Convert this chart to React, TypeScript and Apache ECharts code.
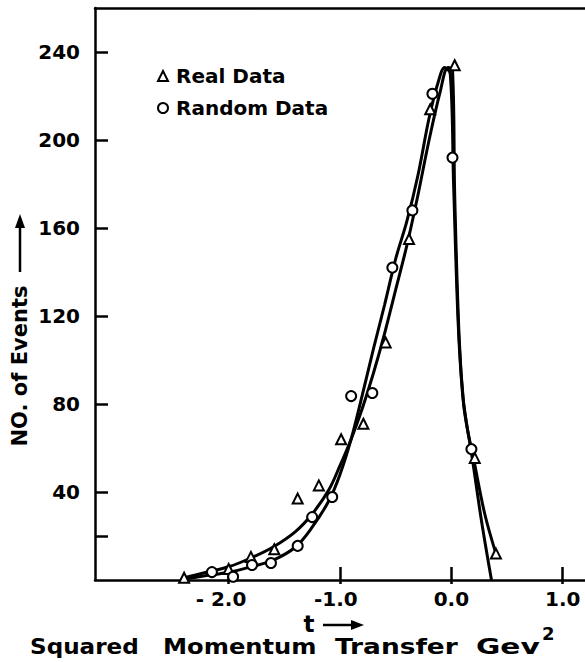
import React, { useEffect, useRef } from "react";
import * as echarts from "echarts";

// Observed data points
const realT = [-2.4, -2.0, -1.8, -1.59, -1.38, -1.19, -0.99, -0.79, -0.59, -0.38, -0.19, 0.03, 0.21, 0.4];
const realN = [1, 5, 10.5, 14, 37, 43, 64, 71, 108, 155, 214, 234, 55.5, 12];
const randT = [-2.15, -1.96, -1.79, -1.62, -1.38, -1.25, -1.07, -0.9, -0.71, -0.53, -0.35, -0.17, 0.01, 0.18];
const randN = [3.6, 1.5, 6.8, 7.7, 15.5, 28.6, 37.7, 83.6, 85, 142, 168, 221, 192, 59.5];

// Hand-drawn fitted curves
const realFitT = [-2.4, -2.2, -2.0, -1.8, -1.6, -1.4, -1.25, -1.1, -1.0, -0.9, -0.8, -0.7, -0.6, -0.5, -0.4, -0.3, -0.2, -0.1, -0.03, 0.01, 0.03, 0.07, 0.11, 0.15, 0.2, 0.3, 0.4];
const realFitN = [1, 3.5, 6, 10, 15, 22, 30, 41, 52, 64, 78, 94, 112, 132, 152, 175, 200, 222, 233, 232, 175, 110, 80, 67, 55, 30, 12];
const randFitT = [-2.4, -2.2, -2.0, -1.8, -1.6, -1.4, -1.25, -1.1, -1.0, -0.9, -0.8, -0.7, -0.6, -0.5, -0.4, -0.3, -0.2, -0.12, -0.06, -0.01, 0.02, 0.06, 0.1, 0.14, 0.18, 0.27, 0.36];
const randFitN = [0.5, 2, 3.5, 6, 9, 15, 24, 36, 48, 64, 84, 105, 125, 146, 163, 184, 210, 226, 233, 230, 180, 118, 85, 70, 58, 27, 0];

// Axis ticks
const xTickValues = [-2, -1, 0, 1];
const xTickLabels = ["{n|- 2.0}{h|- }", "{n|-1.0}{h|-}", "0.0", "1.0"];
const yLabelValues = [40, 80, 120, 160, 200, 240];
const yTickValues = [20, 40, 80, 120, 160, 200, 240];

const zip = (a: number[], b: number[]) => a.map((v, i) => [v, b[i]]);

const FONT = "DejaVu Sans";

export default function App() {
  const ref = useRef<HTMLDivElement>(null);
  useEffect(() => {
    if (!ref.current) return;
    const chart = echarts.init(ref.current, null, { renderer: "svg" });
    const axisLine = { show: true, onZero: false, lineStyle: { color: "#000", width: 2.5 } };
    const labelStyle = { color: "#000", fontFamily: FONT, fontWeight: "bold" as const, fontSize: 20 };
    const markerStyle = { color: "#fff", borderColor: "#000", borderWidth: 2, opacity: 1 };
    const word = (text: string, x: number, sx: number) => ({
      type: "text",
      x,
      y: 646,
      scaleX: sx,
      style: { text, fill: "#000", font: `bold 22px "${FONT}"`, align: "left", verticalAlign: "middle" },
    });
    chart.setOption({
      animation: false,
      backgroundColor: "#fff",
      grid: { left: 95, top: 8, width: 493, height: 572 },
      legend: {
        orient: "vertical",
        left: 152,
        top: 61,
        itemWidth: 10,
        itemHeight: 10,
        itemGap: 12,
        data: ["Real Data", "Random Data"],
        textStyle: { ...labelStyle, lineHeight: 20, padding: [0, 0, 0, 3] },
      },
      xAxis: [
        {
          type: "value",
          min: -3.2,
          max: 1.2,
          position: "bottom",
          axisLine,
          splitLine: { show: false },
          axisTick: {
            show: true,
            inside: true,
            length: 13,
            lineStyle: { color: "#000", width: 2.5 },
            customValues: xTickValues,
          },
          axisLabel: {
            ...labelStyle,
            margin: 9,
            customValues: xTickValues,
            formatter: (v: number) => xTickLabels[xTickValues.indexOf(Math.round(v))] ?? "",
            rich: {
              n: { ...labelStyle },
              h: { ...labelStyle, color: "transparent" },
            },
          },
        },
        {
          type: "value",
          min: -3.2,
          max: 1.2,
          position: "bottom",
          axisLine: { show: false, onZero: false },
          splitLine: { show: false },
          axisTick: {
            show: true,
            inside: false,
            length: 4,
            lineStyle: { color: "#000", width: 2.5 },
            customValues: xTickValues,
          },
          axisLabel: { show: false },
        },
        {
          type: "value",
          min: -3.2,
          max: 1.2,
          position: "top",
          axisLine,
          splitLine: { show: false },
          axisTick: { show: false },
          axisLabel: { show: false },
        },
      ],
      yAxis: {
        type: "value",
        min: 0,
        max: 260,
        position: "left",
        axisLine,
        splitLine: { show: false },
        axisTick: {
          show: true,
          inside: true,
          length: 13,
          lineStyle: { color: "#000", width: 2.5 },
          customValues: yTickValues,
        },
        axisLabel: { ...labelStyle, margin: 15, customValues: yLabelValues },
      },
      series: [
        {
          name: "realFit",
          type: "line",
          data: zip(realFitT, realFitN),
          smooth: 0.35,
          showSymbol: false,
          lineStyle: { color: "#000", width: 3 },
          z: 2,
          silent: true,
        },
        {
          name: "randFit",
          type: "line",
          data: zip(randFitT, randFitN),
          smooth: 0.35,
          showSymbol: false,
          lineStyle: { color: "#000", width: 3 },
          z: 2,
          silent: true,
        },
        {
          name: "Real Data",
          type: "scatter",
          data: zip(realT, realN),
          symbol: "triangle",
          symbolSize: 10,
          itemStyle: markerStyle,
          z: 5,
        },
        {
          name: "Random Data",
          type: "scatter",
          data: zip(randT, randN),
          symbol: "circle",
          symbolSize: 10,
          itemStyle: markerStyle,
          z: 6,
        },
      ],
      graphic: [
        {
          type: "text",
          x: 20,
          y: 366,
          rotation: Math.PI / 2,
          style: {
            text: "NO. of Events",
            fill: "#000",
            font: `bold 21px "${FONT}"`,
            align: "center",
            verticalAlign: "middle",
          },
        },
        { type: "line", shape: { x1: 20, y1: 272, x2: 20, y2: 224 }, style: { stroke: "#000", lineWidth: 2.5 } },
        { type: "polygon", shape: { points: [[15, 228], [20, 214], [25, 228]] }, style: { fill: "#000" } },
        {
          type: "text",
          x: 309,
          y: 624,
          style: { text: "t", fill: "#000", font: `bold 23px "${FONT}"`, align: "center", verticalAlign: "middle" },
        },
        { type: "line", shape: { x1: 323, y1: 625, x2: 355, y2: 625 }, style: { stroke: "#000", lineWidth: 2.5 } },
        { type: "polygon", shape: { points: [[351, 620], [364, 625], [351, 630]] }, style: { fill: "#000" } },
        word("Squared", 30, 1.05),
        word("Momentum", 163, 1.1),
        word("Transfer", 335, 1.2),
        word("Gev", 476, 1.35),
        { type: "text", x: 542, y: 633, style: { text: "2", fill: "#000", font: `bold 18px "${FONT}"`, align: "left", verticalAlign: "middle" } },
      ],
    });
    return () => chart.dispose();
  }, []);
  return <div ref={ref} style={{ position: "fixed", left: 0, top: 0, width: 585, height: 662 }} />;
}
